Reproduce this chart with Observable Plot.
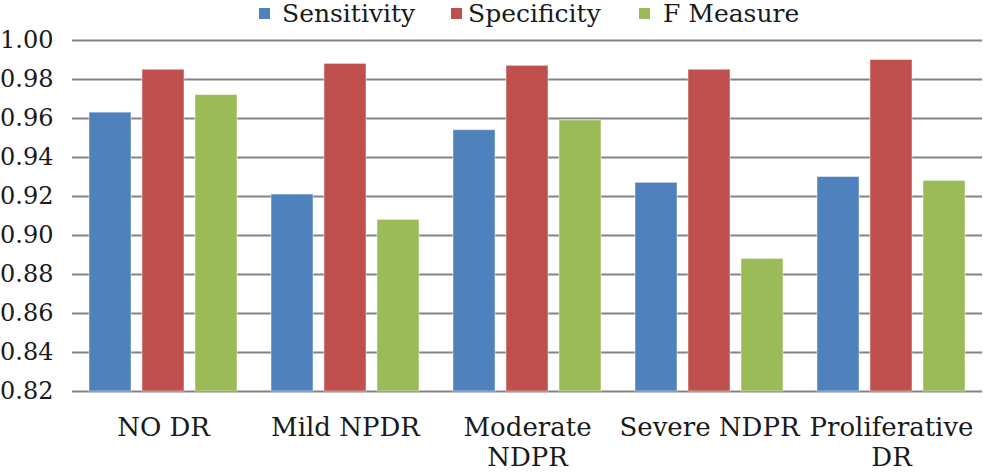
<!DOCTYPE html>
<html>
<head>
<meta charset="utf-8">
<script src="https://cdn.jsdelivr.net/npm/d3@7"></script>
<script src="https://cdn.jsdelivr.net/npm/@observablehq/plot@0.6"></script>
<style>
  html, body { margin: 0; padding: 0; background: #fff; }
  body { width: 983px; height: 474px; overflow: hidden; font-family: "DejaVu Serif", serif; color: #1a1a1a; }
  #legend { position: relative; height: 28px; font-size: 25px; }
  #legend .item { position: absolute; top: 0; height: 28px; line-height: 28px; white-space: nowrap; }
  #legend .sw { position: absolute; top: 8px; width: 11px; height: 11px; }
  #legend .lbl { position: absolute; top: 0px; }
  #chart { position: relative; width: 983px; height: 446px; }
  #chart svg { position: absolute; left: 0; top: 0; }
</style>
</head>
<body>
<div id="legend"></div>
<div id="chart"></div>
<script>
const categories = ["NO DR", "Mild NPDR", "Moderate NDPR", "Severe NDPR", "Proliferative DR"];
const categoryLabels = ["NO DR", "Mild NPDR", "Moderate\nNDPR", "Severe NDPR", "Proliferative\nDR"];
const seriesNames = ["Sensitivity", "Specificity", "F Measure"];
const sensitivity = [0.963, 0.921, 0.954, 0.927, 0.930];
const specificity = [0.985, 0.988, 0.987, 0.985, 0.990];
const fMeasure = [0.972, 0.908, 0.959, 0.888, 0.928];
const yTicks = [0.82, 0.84, 0.86, 0.88, 0.90, 0.92, 0.94, 0.96, 0.98, 1.00];
const colors = ["#4F81BD", "#C0504D", "#9BBB59"];

const seriesValues = [sensitivity, specificity, fMeasure];
const data = [];
categories.forEach((c, i) => {
  seriesNames.forEach((s, j) => data.push({category: c, series: s, value: seriesValues[j][i]}));
});

// Legend
const legend = document.getElementById("legend");
const legendX = [259, 451, 639];
const legendTextOffset = [23, 17, 24];
seriesNames.forEach((s, j) => {
  const it = document.createElement("div");
  it.className = "item";
  it.style.left = legendX[j] + "px";
  it.innerHTML = `<span class="sw" style="left:0;background:${colors[j]}"></span><span class="lbl" style="left:${legendTextOffset[j]}px">${s}</span>`;
  legend.appendChild(it);
});

const labelOf = new Map(categories.map((c, i) => [c, categoryLabels[i]]));

const common = {
  width: 983,
  height: 446,
  marginLeft: 72,
  marginRight: 1,
  marginTop: 12,
  marginBottom: 83
};

// Background layer: gridlines, y axis, category labels
const back = Plot.plot({
  ...common,
  style: {fontFamily: "DejaVu Serif", color: "#1a1a1a", background: "white", overflow: "visible"},
  x: {type: "band", domain: categories, padding: 0, label: null},
  y: {domain: [0.82, 1.0], label: null},
  marks: [
    Plot.ruleY(yTicks, {stroke: "#848484", strokeWidth: 2}),
    Plot.axisY(yTicks, {tickSize: 0, tickPadding: 19, fontSize: 24, tickFormat: d3.format(".2f"), label: null}),
    Plot.axisX({tickSize: 0, tickPadding: 23, fontSize: 26, lineHeight: 1.154, tickFormat: d => labelOf.get(d), label: null})
  ]
});

// Foreground layer: grouped bars
const front = Plot.plot({
  ...common,
  style: {background: "transparent", overflow: "visible"},
  fx: {domain: categories, paddingInner: 0.176, paddingOuter: 0.088, axis: null, label: null},
  x: {domain: seriesNames, paddingInner: 0.2, paddingOuter: 0, axis: null},
  y: {domain: [0.82, 1.0], axis: null},
  color: {domain: seriesNames, range: colors},
  marks: [
    Plot.barY(data, {fx: "category", x: "series", y1: 0.82, y2: "value", fill: "series", stroke: "white", strokeOpacity: 0.45, strokeWidth: 1})
  ]
});

const chartDiv = document.getElementById("chart");
chartDiv.appendChild(back);
chartDiv.appendChild(front);
</script>
</body>
</html>
